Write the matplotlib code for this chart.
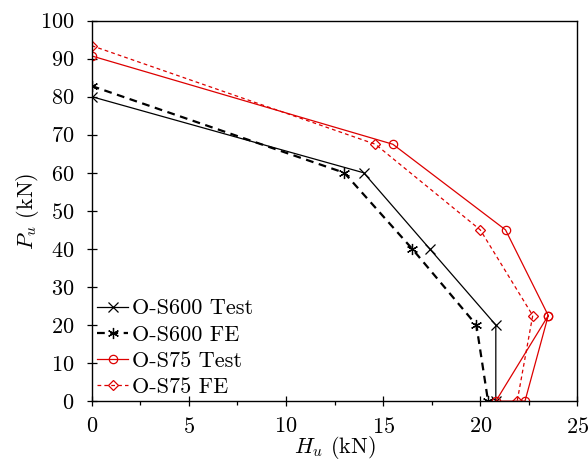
import numpy as np
import matplotlib
matplotlib.use("Agg")
import matplotlib.pyplot as plt
from matplotlib.ticker import MultipleLocator

plt.rcParams['font.family'] = 'cmr10'
plt.rcParams['mathtext.fontset'] = 'cm'
plt.rcParams['axes.formatter.use_mathtext'] = True
plt.rcParams['font.size'] = 16

# data (H_u in kN, P_u in kN)
s600_test_h = [0, 14.0, 17.4, 20.8, 20.8]
s600_test_p = [80.0, 60, 40, 20, 0]
s600_fe_h = [0, 13.0, 16.5, 19.8, 20.4]
s600_fe_p = [82.8, 60, 40, 20, 0]
# the test curve for S75 has two end points at P=0 (both joined to the 22.5 kN point)
s75_test_h = [0, 15.5, 21.3, 23.5, 20.8, 22.3, 23.5]
s75_test_p = [90.7, 67.5, 45, 22.5, 0, 0, 22.5]
s75_fe_h = [0, 14.6, 20.0, 22.7, 21.9]
s75_fe_p = [93.4, 67.5, 45, 22.5, 0]

red = '#dd0000'

fig = plt.figure(figsize=(5.88, 4.67), dpi=100)
ax = fig.add_axes([0.156, 0.141, 0.826, 0.815])

ax.plot(s600_test_h, s600_test_p, color='black', lw=0.9, marker='x', ms=7, mew=0.9,
        label='O-S600 Test')
ax.plot(s600_fe_h, s600_fe_p, color='black', lw=1.6, ls=(0, (3.5, 2.5)), marker=(6, 2, 0),
        ms=8, mew=0.9, label='O-S600 FE')
ax.plot(s75_test_h, s75_test_p, color=red, lw=0.9, marker='o', ms=6, mfc='none', mew=0.9,
        label='O-S75 Test')
ax.plot(s75_fe_h, s75_fe_p, color=red, lw=0.9, ls=(0, (3, 2.5)), marker='D', ms=5,
        mfc='none', mew=0.9, label='O-S75 FE')

ax.set_xlim(0, 25)
ax.set_ylim(0, 100)
ax.xaxis.set_major_locator(MultipleLocator(5))
ax.xaxis.set_minor_locator(MultipleLocator(2.5))
ax.yaxis.set_major_locator(MultipleLocator(10))
ax.tick_params(axis='x', which='major', direction='inout', length=6.5, width=0.9, pad=8,
               top=False)
ax.tick_params(axis='x', which='minor', direction='out', length=3, width=0.9, top=False)
ax.tick_params(axis='y', which='major', direction='inout', length=6.5, width=0.9, pad=9,
               right=False)
for s in ax.spines.values():
    s.set_linewidth(1.0)

ax.set_xlabel(r'$H_u$ (kN)')
ax.xaxis.set_label_coords(0.5, -0.085)
ax.set_ylabel(r'$P_u$ (kN)')
ax.yaxis.set_label_coords(-0.105, 0.5)

ax.legend(loc='lower left', bbox_to_anchor=(-0.021, -0.03), frameon=False,
          handlelength=1.4, handletextpad=0.15, labelspacing=0.3, borderaxespad=0.3)

fig.savefig('out.png', dpi=100)
